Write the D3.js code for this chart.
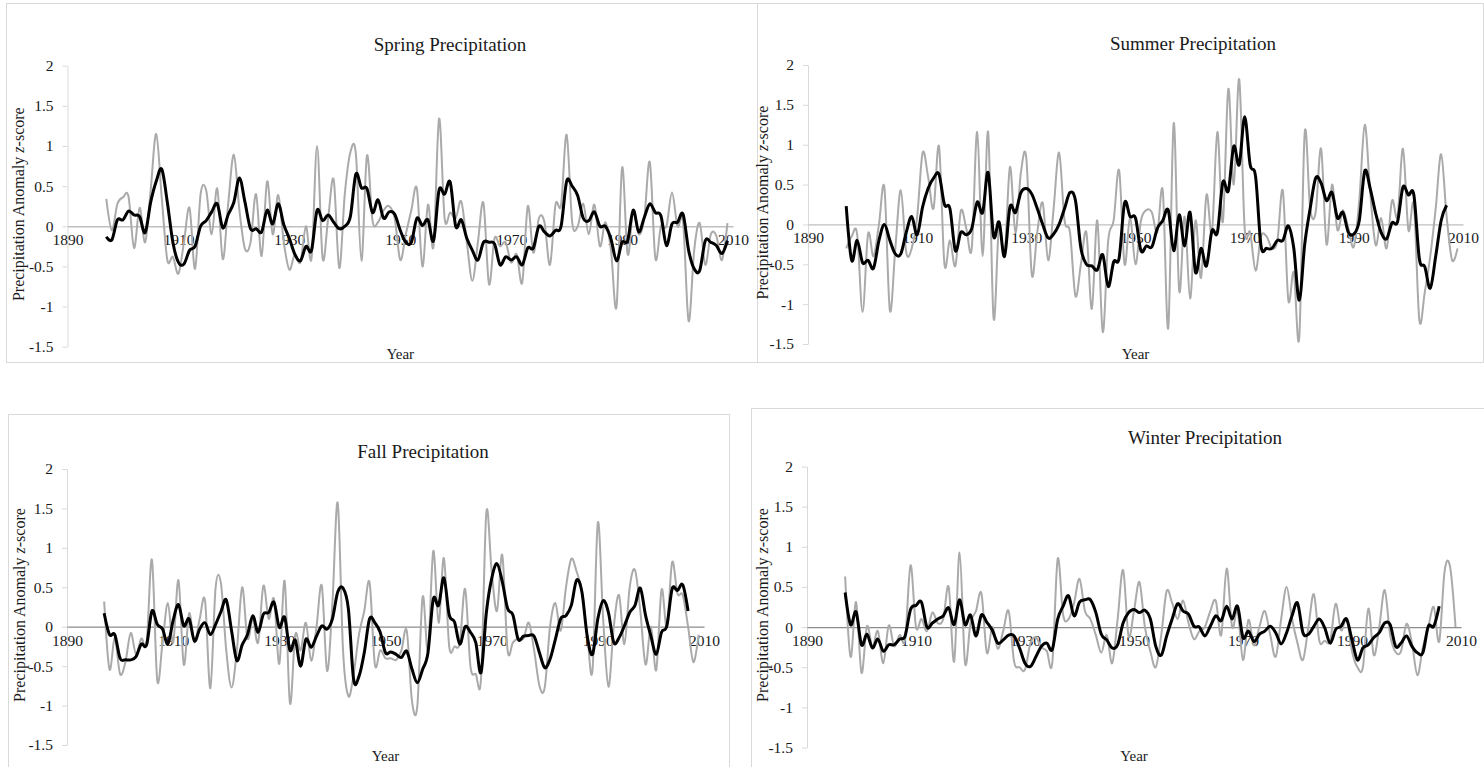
<!DOCTYPE html>
<html>
<head>
<meta charset="utf-8">
<script src="https://cdn.jsdelivr.net/npm/d3@7"></script>
<style>
  body { margin: 0; background: #fff; }
  svg { display: block; }
  text { font-family: "Liberation Serif", "Times New Roman", serif; }
</style>
</head>
<body>
<svg id="drawing_region"></svg>
<script>
// years of the annual series (gray) and smoothed series (black)
const years = d3.range(1897, 2010);
const xTicks = [1890, 1910, 1930, 1950, 1970, 1990, 2010];
const yTicks = [-1.5, -1, -0.5, 0, 0.5, 1, 1.5, 2];

const springAnnual = [0.34,-0.05,0.28,0.36,0.37,-0.27,0.23,-0.2,0.45,1.15,0.35,-0.42,-0.38,-0.59,-0.2,0.23,-0.53,0.4,0.45,-0.1,
  0.47,-0.41,0.3,0.89,0.2,-0.28,-0.2,0.4,-0.37,0.56,-0.1,0.39,-0.2,-0.54,-0.35,-0.45,0.0,-0.4,1.0,-0.4,
  0.1,0.58,-0.52,0.4,0.92,0.9,-0.43,0.88,0.07,0.05,0.2,0.25,0.1,-0.42,-0.1,0.2,0.47,-0.5,0.27,-0.25,
  1.34,0.1,0.17,0.1,0.31,-0.2,-0.68,-0.2,0.29,-0.72,-0.15,-0.25,-0.2,-0.45,-0.35,-0.7,0.25,-0.33,0.1,0.05,
  -0.48,0.27,0.27,1.14,0.05,0.0,0.28,-0.1,0.27,-0.25,0.05,-0.3,-1.0,0.73,-0.35,0.2,-0.1,0.1,0.8,-0.4,
  0.0,0.0,0.42,0.0,0.05,-1.18,-0.3,0.04,-0.48,-0.1,-0.12,-0.42,0.04];
const springSmooth = [-0.13,-0.17,0.08,0.08,0.19,0.14,0.12,-0.08,0.3,0.56,0.71,0.3,-0.2,-0.45,-0.47,-0.3,-0.25,0.0,0.07,0.18,
  0.28,-0.02,0.15,0.3,0.6,0.3,-0.03,-0.03,-0.07,0.2,0.03,0.28,0.02,-0.15,-0.35,-0.43,-0.25,-0.3,0.2,0.07,
  0.14,0.05,-0.03,0.0,0.12,0.65,0.48,0.47,0.17,0.33,0.1,0.18,0.15,-0.05,-0.2,-0.2,0.1,0.01,0.08,-0.18,
  0.45,0.4,0.55,0.0,0.08,-0.15,-0.3,-0.42,-0.2,-0.2,-0.22,-0.48,-0.38,-0.42,-0.38,-0.48,-0.27,-0.27,0.0,-0.07,
  -0.12,-0.05,0.0,0.56,0.5,0.38,0.1,0.07,0.18,0.0,0.0,-0.16,-0.43,-0.2,-0.18,0.2,-0.07,0.11,0.28,0.17,
  0.13,-0.24,0.03,0.05,0.15,-0.3,-0.53,-0.55,-0.18,-0.2,-0.24,-0.34,-0.18];

const summerAnnual = [-0.3,-0.15,-0.12,-1.1,-0.12,-0.4,0.0,0.46,-1.08,-0.3,0.43,-0.35,-0.3,0.1,0.9,0.6,0.2,0.98,-0.5,-0.2,
  -0.52,0.17,-0.05,-0.3,1.16,-0.4,1.16,-1.18,0.0,-0.4,0.72,-0.1,0.65,0.83,-0.63,-0.1,0.27,-0.45,0.2,0.9,
  0.05,-0.1,-0.9,-0.5,-0.1,-1.06,0.05,-1.35,-0.2,0.05,0.68,-0.5,0.1,-0.5,0.05,0.18,0.15,-0.1,0.42,-1.3,
  1.27,-0.83,0.1,-0.93,0.05,-0.67,0.37,-0.1,1.16,0.03,1.7,0.5,1.82,-0.05,-0.1,-0.58,-0.15,-0.15,-0.3,-0.2,
  0.42,-0.95,-0.6,-1.42,1.15,0.2,0.15,0.95,-0.25,0.5,-0.07,0.18,-0.05,-0.28,0.3,1.25,0.4,-0.26,0.08,-0.3,
  0.3,0.1,0.95,-0.07,0.25,-1.2,-0.85,-0.4,0.2,0.88,0.1,-0.45,-0.3];
const summerSmooth = [0.23,-0.45,-0.2,-0.48,-0.45,-0.55,-0.2,0.0,-0.2,-0.37,-0.37,-0.1,0.1,-0.13,0.22,0.45,0.58,0.63,0.25,0.2,
  -0.33,-0.1,-0.13,-0.05,0.28,0.15,0.65,-0.15,0.03,-0.4,0.22,0.15,0.4,0.45,0.38,0.2,0.0,-0.17,-0.12,0.0,
  0.2,0.4,0.3,-0.3,-0.5,-0.52,-0.57,-0.38,-0.78,-0.47,-0.42,0.27,0.1,0.08,-0.33,-0.27,-0.28,-0.05,0.05,0.18,
  -0.33,0.12,-0.27,0.15,-0.6,-0.3,-0.52,-0.08,-0.1,0.53,0.42,0.98,0.75,1.35,0.75,0.6,-0.27,-0.3,-0.3,-0.2,
  -0.2,-0.02,-0.3,-0.95,-0.25,0.2,0.58,0.52,0.3,0.4,0.08,0.15,-0.1,-0.12,0.05,0.67,0.45,0.14,-0.1,-0.18,
  0.02,0.03,0.47,0.37,0.37,-0.43,-0.53,-0.8,-0.4,0.05,0.24];

const fallAnnual = [0.32,-0.54,-0.15,-0.6,-0.45,-0.08,-0.35,-0.15,-0.2,0.85,-0.68,-0.2,0.3,-0.2,0.59,-0.48,0.17,-0.2,0.1,0.33,
  -0.78,0.5,0.55,-0.3,-0.77,-0.3,0.5,-0.15,0.1,-0.2,0.52,0.1,0.35,-0.47,0.58,-0.97,-0.1,-0.3,0.05,-0.43,
  0.0,0.52,-0.56,0.3,1.57,-0.3,-0.88,-0.6,-0.1,0.2,0.56,-0.48,-0.3,-0.4,-0.4,-0.42,-0.3,-0.05,-0.95,-1.0,
  0.38,-0.3,0.96,0.05,0.87,-0.25,-0.25,-0.2,0.48,-0.5,-0.6,-0.65,1.45,0.7,0.2,0.91,-0.3,-0.2,-0.15,-0.15,
  0.05,-0.3,-0.75,-0.77,0.0,0.3,-0.05,0.5,0.86,0.7,0.45,-0.1,-0.55,1.32,0.1,-0.76,0.0,0.4,-0.22,0.5,
  0.72,0.2,-0.48,0.0,-0.55,0.47,0.0,0.82,0.42,0.4,0.0,-0.45,-0.1];
const fallSmooth = [0.17,-0.1,-0.1,-0.4,-0.42,-0.42,-0.38,-0.22,-0.23,0.2,0.03,-0.03,-0.22,0.08,0.28,0.01,0.1,-0.18,-0.03,0.05,
  -0.1,0.03,0.19,0.34,-0.05,-0.43,-0.23,-0.1,0.14,-0.07,0.16,0.18,0.31,-0.01,0.12,-0.3,-0.17,-0.5,-0.16,-0.26,
  -0.12,0.01,-0.03,0.1,0.44,0.49,0.23,-0.67,-0.63,-0.33,0.1,0.05,-0.07,-0.33,-0.32,-0.35,-0.39,-0.31,-0.54,-0.71,
  -0.54,-0.33,0.35,0.27,0.62,0.15,0.06,-0.22,0.0,-0.07,-0.2,-0.58,0.18,0.61,0.8,0.57,0.23,0.15,-0.16,-0.12,
  -0.11,-0.12,-0.33,-0.52,-0.41,-0.16,0.1,0.14,0.27,0.59,0.44,-0.12,-0.35,0.1,0.33,0.18,-0.2,-0.14,0.01,0.18,
  0.27,0.49,0.14,-0.12,-0.35,-0.07,0.01,0.48,0.46,0.53,0.2];

const winterAnnual = [0.63,-0.37,0.31,-0.57,0.01,-0.25,-0.05,-0.45,0.02,-0.24,-0.1,-0.15,0.77,0.0,0.1,-0.05,0.18,0.05,0.1,0.5,
  -0.43,0.93,-0.45,0.05,0.2,0.42,-0.32,0.0,-0.27,-0.05,0.2,-0.43,-0.5,-0.53,-0.2,-0.13,-0.25,-0.3,-0.45,0.85,
  0.15,0.1,0.3,0.6,0.2,0.1,-0.1,-0.32,-0.1,-0.45,0.1,0.71,-0.11,0.2,0.56,0.0,-0.3,-0.5,-0.1,0.45,
  0.3,0.1,0.33,0.05,-0.15,-0.05,0.0,0.2,0.33,-0.1,0.73,0.0,0.2,-0.41,0.09,-0.23,0.0,0.2,-0.1,-0.37,
  0.1,0.5,0.1,-0.2,-0.41,0.0,0.41,-0.17,-0.17,-0.17,0.29,-0.04,0.1,-0.3,-0.5,-0.5,0.23,-0.35,0.0,0.46,
  -0.1,-0.31,-0.3,0.04,-0.2,-0.6,-0.25,0.0,0.25,-0.18,0.7,0.75,0.0];
const winterSmooth = [0.43,0.03,0.19,-0.22,-0.09,-0.26,-0.15,-0.3,-0.22,-0.22,-0.15,-0.11,0.22,0.27,0.31,0.0,0.05,0.1,0.14,0.24,
  0.03,0.34,0.03,0.15,-0.11,0.15,0.06,-0.04,-0.2,-0.16,-0.1,-0.11,-0.26,-0.45,-0.49,-0.37,-0.24,-0.2,-0.28,0.1,
  0.26,0.39,0.14,0.31,0.34,0.34,0.18,-0.09,-0.16,-0.26,-0.22,0.05,0.18,0.22,0.18,0.21,0.1,-0.24,-0.35,-0.11,
  0.1,0.29,0.2,0.16,0.01,0.0,-0.11,0.01,0.14,0.08,0.26,0.1,0.26,-0.13,-0.05,-0.18,-0.09,-0.05,0.01,-0.07,
  -0.21,-0.07,0.14,0.3,-0.07,-0.09,0.01,0.1,-0.01,-0.2,-0.03,0.01,0.1,-0.16,-0.41,-0.26,-0.22,-0.13,-0.07,0.05,
  0.03,-0.24,-0.2,-0.11,-0.24,-0.32,-0.32,0.01,0.01,0.26];

// layout of the four chart boxes (pixels)
const panels = [
  { title: 'Spring Precipitation', annual: springAnnual, smooth: springSmooth,
    box: [6, 3, 757, 362], plot: [67.5, 733, 65.7, 346.7],
    titleXY: [450, 51], ytitleX: 18, yearY: 359, zero: '#bfbfbf' },
  { title: 'Summer Precipitation', annual: summerAnnual, smooth: summerSmooth,
    box: [757, 3, 1483, 362], plot: [808, 1463, 65, 344],
    titleXY: [1193, 50], ytitleX: 762, yearY: 359, zero: '#bfbfbf' },
  { title: 'Fall Precipitation', annual: fallAnnual, smooth: fallSmooth,
    box: [8, 414, 729, 780], plot: [67, 704, 469, 745],
    titleXY: [423, 458], ytitleX: 19, yearY: 761, zero: '#8c8c8c' },
  { title: 'Winter Precipitation', annual: winterAnnual, smooth: winterSmooth,
    box: [751, 408, 1490, 780], plot: [807, 1461, 466.5, 747.5],
    titleXY: [1205, 444], ytitleX: 762, yearY: 761, zero: '#8c8c8c' }
];

const svg = d3.select('#drawing_region')
    .attr('width', 1484)
    .attr('height', 767);

panels.forEach(p => drawPanel(p));

function drawPanel(p) {
    const g = svg.append('g');
    const [bx0, by0, bx1, by1] = p.box;
    const [px0, px1, pyTop, pyBot] = p.plot;

    g.append('rect')
        .attr('x', bx0 + 0.5).attr('y', by0 + 0.5)
        .attr('width', bx1 - bx0).attr('height', by1 - by0)
        .attr('fill', 'none')
        .attr('stroke', '#d9d9d9');

    const x = d3.scaleLinear().domain([1890, 2010]).range([px0, px1]);
    const y = d3.scaleLinear().domain([-1.5, 2]).range([pyBot, pyTop]);

    // y axis
    const yAxis = d3.axisLeft(y)
        .tickValues(yTicks)
        .tickFormat(d => String(d))
        .tickSize(5)
        .tickSizeOuter(0)
        .tickPadding(9);
    const ya = g.append('g')
        .attr('transform', `translate(${px0},0)`)
        .call(yAxis);
    ya.select('.domain').attr('stroke', '#d9d9d9');
    ya.selectAll('.tick line').attr('stroke', '#d9d9d9');
    ya.selectAll('.tick text')
        .attr('fill', '#1a1a1a')
        .style('font-size', '15.5px')
        .style('font-family', '"Liberation Serif", serif');

    // x axis along zero
    const xAxis = d3.axisBottom(x)
        .tickValues(xTicks)
        .tickFormat(d => String(d))
        .tickSize(0)
        .tickPadding(8);
    const xa = g.append('g')
        .attr('transform', `translate(0,${y(0)})`)
        .call(xAxis);
    xa.select('.domain').attr('stroke', p.zero).attr('stroke-width', 1.3);
    xa.selectAll('.tick text')
        .attr('fill', '#1a1a1a')
        .style('font-size', '15.5px')
        .style('font-family', '"Liberation Serif", serif');

    const line = d3.line()
        .defined(d => d[1] != null)
        .x(d => x(d[0]))
        .y(d => y(d[1]))
        .curve(d3.curveCardinal.tension(0));

    g.append('path')
        .datum(p.annual.map((v, i) => [years[i], v]))
        .attr('fill', 'none')
        .attr('stroke', '#aaaaaa')
        .attr('stroke-width', 2)
        .attr('d', line);

    g.append('path')
        .datum(p.smooth.map((v, i) => [years[i], v]))
        .attr('fill', 'none')
        .attr('stroke', '#000')
        .attr('stroke-width', 3)
        .attr('stroke-linejoin', 'round')
        .attr('d', line);

    g.append('text')
        .attr('x', p.titleXY[0]).attr('y', p.titleXY[1])
        .attr('text-anchor', 'middle')
        .attr('fill', '#1a1a1a')
        .style('font-size', '19px')
        .text(p.title);

    const yt = g.append('text')
        .attr('transform', `translate(${p.ytitleX},${(pyTop + pyBot) / 2 - 2}) rotate(-90)`)
        .attr('text-anchor', 'middle')
        .attr('dominant-baseline', 'central')
        .attr('fill', '#1a1a1a')
        .style('font-size', '16px');
    yt.append('tspan').text('Precipitation Anomaly ');
    yt.append('tspan').style('font-style', 'italic').text('z');
    yt.append('tspan').text('-score');

    g.append('text')
        .attr('x', (px0 + px1) / 2).attr('y', p.yearY)
        .attr('text-anchor', 'middle')
        .attr('fill', '#1a1a1a')
        .style('font-size', '15px')
        .text('Year');
}
</script>
</body>
</html>
